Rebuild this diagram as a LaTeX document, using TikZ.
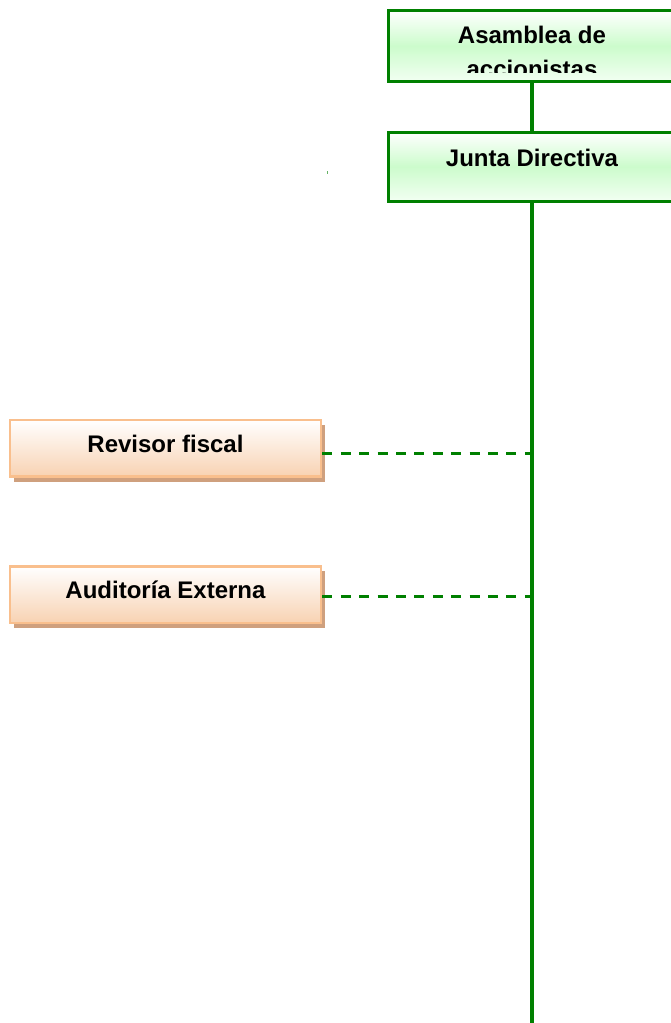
\documentclass[tikz,border=0pt]{standalone}
\usepackage{fontspec}
\setmainfont{Liberation Sans}
\usepackage{xcolor}
\usepackage{tikz}
\usetikzlibrary{positioning,shadows}
\definecolor{cgreen}{HTML}{008000}
\definecolor{cmint}{HTML}{CCFCCC}
\definecolor{cmintpale}{HTML}{F2FFF2}
\definecolor{cpeach}{HTML}{F8D2B2}
\definecolor{cpeachline}{HTML}{F9BF8D}
\definecolor{ctan}{HTML}{CFA07E}
\newcommand{\orgfont}{\bfseries\fontsize{24}{34}\selectfont}
\tikzset{
  gbox/.style={draw=cgreen,line width=2.8pt,minimum width=287pt,inner sep=0pt,
               top color=white,bottom color=cmintpale,middle color=cmint,font=\orgfont},
  obox/.style={draw=cpeachline,line width=2.8pt,minimum width=311pt,minimum height=56.5pt,inner sep=0pt,
               top color=white,bottom color=cpeach,font=\orgfont,text height=16pt,text depth=8pt,
               drop shadow={shadow xshift=4pt,shadow yshift=-5pt,fill=ctan,opacity=1}},
  trunk/.style={cgreen,line width=4.5pt},
  tie/.style={cgreen,line width=3pt,dash pattern=on 10pt off 8.4pt},
}

\begin{document}
\begin{tikzpicture}[x=1pt,y=-1pt]
\useasboundingbox (0,0) rectangle (671,1023);

% governing bodies
\node[gbox,minimum height=71pt] (asamblea) at (532,46) {};
\begin{scope}
  \clip (388,11) rectangle (677,72);
  \node[font=\orgfont,align=center,inner sep=0pt,anchor=north] (asamblea-txt) at (532,25.6) {Asamblea de\\accionistas};
\end{scope}
\node[gbox,minimum height=69pt,text height=16pt,text depth=17pt] (junta) at (532,166.6) {Junta Directiva};
\coordinate (trunkend) at (532,1030);

% control bodies
\node[obox] (revisor) at (165.5,448.3) {Revisor fiscal};
\node[obox] (auditoria) at (165.5,594.7) {Auditoría Externa};

\foreach \b/\d in {revisor/4.7,auditoria/2}
  \draw[tie] ([yshift=-\d pt]\b.east) -- ([yshift=-\d pt]\b.east -| trunkend);

\draw[trunk] (asamblea.south) -- (junta.north);
\draw[trunk] (junta.south) -- (trunkend);

\fill[cgreen!60] (326.6,171) rectangle (327.6,174);

\end{tikzpicture}
\end{document}
